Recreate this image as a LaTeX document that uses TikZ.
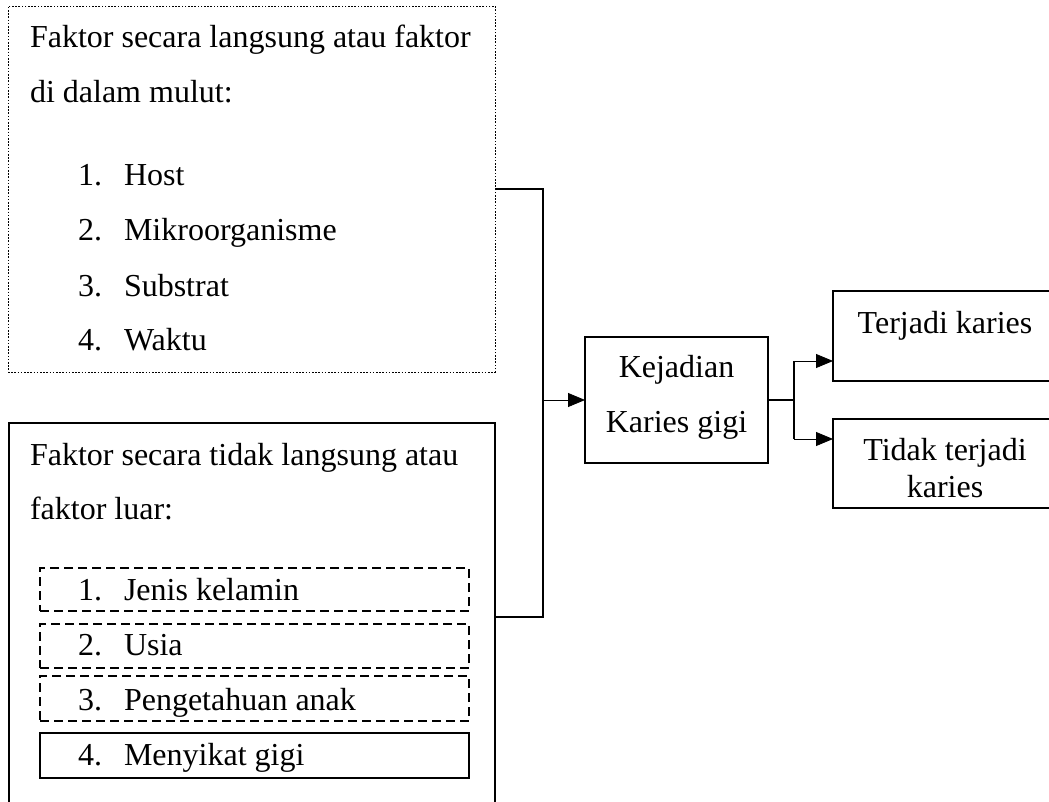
\documentclass[tikz,border=0pt]{standalone}
\usepackage{fontspec}
\setmainfont{Liberation Serif}
\usetikzlibrary{arrows.meta}
\begin{document}
\begin{tikzpicture}[x=1pt,y=-1pt,
  every node/.style={font=\fontsize{32}{38}\selectfont, inner sep=0pt, outer sep=0pt},
  box/.style={draw, line width=1.5pt, anchor=north west},
  dotbox/.style={draw, line width=0.8pt, dash pattern=on 1.6pt off 1.6pt, anchor=north west},
  dbox/.style={draw, line width=1.5pt, dash pattern=on 9pt off 5pt, anchor=north west},
  sbox/.style={draw, line width=2.5pt, anchor=north west},
  conn/.style={line width=1.6pt},
  arr/.style={line width=0.8pt, -{Triangle[length=17pt,width=14pt]}},
  txt/.style={anchor=base west},
  ctxt/.style={anchor=base}]
\useasboundingbox (0,0) rectangle (1049,802);
\clip (0,0) rectangle (1049,802);
% boxes
\node[dotbox, minimum width=487pt, minimum height=366pt] (top) at (8,6) {};
\node[box, minimum width=486pt, minimum height=420pt] (bot) at (9,423) {};
\node[dbox, minimum width=429pt, minimum height=43pt] (i1) at (40,568) {};
\node[dbox, minimum width=429pt, minimum height=44pt] (i2) at (40,624) {};
\node[dbox, minimum width=429pt, minimum height=45pt] (i3) at (40,676) {};
\node[sbox, minimum width=429pt, minimum height=45pt] (i4) at (40,733) {};
\node[box, minimum width=183pt, minimum height=126pt] (keja) at (585,337) {};
\node[box, minimum width=224pt, minimum height=90pt] (ter) at (833,291) {};
\node[box, minimum width=224pt, minimum height=89pt] (tid) at (833,419) {};
% texts top box
\node[txt] (ta) at (30,48) {Faktor secara langsung atau faktor};
\node[txt] (tb) at (30,103) {di dalam mulut:};
\node[txt] (n1) at (78,186) {1.};
\node[txt] (h1) at (124,186) {Host};
\node[txt] (n2) at (78,241) {2.};
\node[txt] (h2) at (124,241) {Mikroorganisme};
\node[txt] (n3) at (78,296) {3.};
\node[txt] (h3) at (124,296) {Substrat};
\node[txt] (n4) at (78,350) {4.};
\node[txt] (h4) at (124,350) {Waktu};
% texts bottom box
\node[txt] (ba) at (30,465) {Faktor secara tidak langsung atau};
\node[txt] (bb) at (30,519) {faktor luar:};
\node[txt] (m1) at (78,600) {1.};
\node[txt] (k1) at (124,600) {Jenis kelamin};
\node[txt] (m2) at (78,655) {2.};
\node[txt] (k2) at (124,655) {Usia};
\node[txt] (m3) at (78,710) {3.};
\node[txt] (k3) at (124,710) {Pengetahuan anak};
\node[txt] (m4) at (78,765) {4.};
\node[txt] (k4) at (124,765) {Menyikat gigi};
% right texts
\node[ctxt] (kj1) at (676.5,377) {Kejadian};
\node[ctxt] (kj2) at (676.5,432) {Karies gigi};
\node[ctxt] (tr1) at (945,333) {Terjadi karies};
\node[ctxt] (td1) at (945,460) {Tidak terjadi};
\node[ctxt] (td2) at (945,497) {karies};
% connectors
\coordinate (jb) at (543,617);
\coordinate (br) at (794,400);
\coordinate (b1) at (794,361);
\coordinate (b2) at (794,439);
\draw[conn] (top.east) -| (jb) -- (jb -| bot.east);
\draw[arr] (keja.west -| jb) -- (keja.west);
\draw[conn] (keja.east) -- (keja.east -| br);
\draw[conn] (b1) -- (b2);
\draw[arr] (b1) -- (b1 -| ter.west);
\draw[arr] (b2) -- (b2 -| tid.west);
\end{tikzpicture}
\end{document}
